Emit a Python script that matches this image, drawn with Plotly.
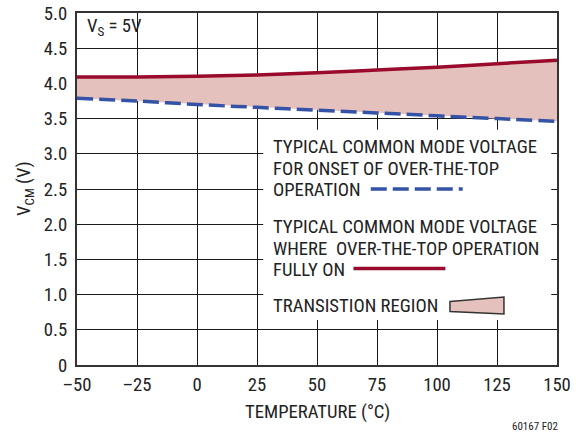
import plotly.graph_objects as go

# ---- data ----
temperature = [-50, -25, 0, 25, 50, 75, 100, 125, 150]
v_onset = [3.79, 3.75, 3.70, 3.66, 3.62, 3.58, 3.54, 3.50, 3.46]      # blue dashed
v_fully_on = [4.09, 4.09, 4.10, 4.12, 4.15, 4.19, 4.23, 4.28, 4.33]   # red solid

x_tickvals = [-50, -25, 0, 25, 50, 75, 100, 125, 150]
x_ticktext = ["–50", "–25", "0", "25", "50", "75", "100", "125", "150"]
y_tickvals = [0, 0.5, 1.0, 1.5, 2.0, 2.5, 3.0, 3.5, 4.0, 4.5, 5.0]
y_ticktext = ["0", "0.5", "1.0", "1.5", "2.0", "2.5", "3.0", "3.5", "4.0", "4.5", "5.0"]

legend_lines_1 = ["TYPICAL COMMON MODE VOLTAGE", "FOR ONSET OF OVER-THE-TOP", "OPERATION"]
legend_lines_2 = ["TYPICAL COMMON MODE VOLTAGE", "WHERE\u00a0 OVER-THE-TOP OPERATION", "FULLY ON"]
legend_lines_3 = ["TRANSISTION REGION"]

FONT = "Roboto Condensed, Liberation Sans Narrow, Arial Narrow, sans-serif"
TXT = "#222222"
RED = "#9a0a2c"
BLUE = "#3553a6"
PINK = "#e4c1bc"
FS = 18.7

W, H = 582, 434
PL, PR, PB, PT = 77, 557, 365, 13
PW, PH = PR - PL, PB - PT

fig = go.Figure()

# fill region between curves
fig.add_trace(go.Scatter(x=temperature, y=v_onset, mode="lines",
                         line=dict(width=0, color=PINK), showlegend=False, hoverinfo="skip"))
fig.add_trace(go.Scatter(x=temperature, y=v_fully_on, mode="lines", fill="tonexty",
                         fillcolor=PINK, line=dict(width=0, color=PINK),
                         showlegend=False, hoverinfo="skip"))
# lines
fig.add_trace(go.Scatter(x=temperature, y=v_onset, mode="lines",
                         line=dict(color=BLUE, width=3.5, dash="16px,6px", shape="spline"),
                         showlegend=False))
fig.add_trace(go.Scatter(x=temperature, y=v_fully_on, mode="lines",
                         line=dict(color=RED, width=3.5, shape="spline"),
                         showlegend=False))

shapes = []
# white legend box hiding grid
shapes.append(dict(type="rect", xref="x", yref="y", x0=27.6, x1=147.6, y0=0.64, y1=3.34,
                   fillcolor="white", line=dict(width=0), layer="between"))
# legend symbols
shapes.append(dict(type="line", xref="x", yref="y", x0=72.4, x1=110.7, y0=2.50, y1=2.50,
                   line=dict(color=BLUE, width=3.5, dash="16px,6px")))
shapes.append(dict(type="line", xref="x", yref="y", x0=65.2, x1=103.5, y0=1.372, y1=1.372,
                   line=dict(color=RED, width=3.5)))
shapes.append(dict(type="path", xref="x", yref="y",
                   path="M 105.4 0.903 L 127.9 0.966 L 127.9 0.724 L 105.4 0.761 Z",
                   fillcolor=PINK, line=dict(color="#333333", width=1.5)))

annotations = []
def add_line(text, y):
    annotations.append(dict(x=30.7, y=y, xref="x", yref="y", text=text, showarrow=False,
                            xanchor="left", yanchor="middle",
                            font=dict(family=FONT, size=FS, color=TXT)))

for t, y in zip(legend_lines_1, [3.097, 2.784, 2.490]):
    add_line(t, y)
for t, y in zip(legend_lines_2, [1.960, 1.648, 1.354]):
    add_line(t, y)
for t, y in zip(legend_lines_3, [0.842]):
    add_line(t, y)

annotations.append(dict(x=-46.5, y=4.80, xref="x", yref="y", text="V<sub>S</sub> = 5V",
                        showarrow=False, xanchor="left", yanchor="middle",
                        font=dict(family=FONT, size=FS, color=TXT)))
annotations.append(dict(x=(560 - PL) / PW, y=(PB - 426) / PH, xref="paper", yref="paper",
                        text="60167 F02", showarrow=False, xanchor="right", yanchor="middle",
                        font=dict(family=FONT, size=11, color=TXT)))
# axis titles
annotations.append(dict(x=(317 - PL) / PW, y=(PB - 412) / PH, xref="paper", yref="paper",
                        text="TEMPERATURE (°C)", showarrow=False, xanchor="center", yanchor="middle",
                        font=dict(family=FONT, size=FS, color=TXT)))
annotations.append(dict(x=(25 - PL) / PW, y=0.5, xref="paper", yref="paper",
                        text="V<sub>CM</sub> (V)", showarrow=False, xanchor="center", yanchor="middle",
                        textangle=-90, font=dict(family=FONT, size=FS, color=TXT)))

fig.update_layout(
    width=W, height=H,
    margin=dict(l=PL, r=W - PR, t=PT, b=H - PB, autoexpand=False),
    paper_bgcolor="white", plot_bgcolor="white",
    font=dict(family=FONT, size=FS, color=TXT),
    shapes=shapes, annotations=annotations,
    showlegend=False,
)
fig.update_xaxes(range=[-50, 150], tickvals=x_tickvals, ticktext=x_ticktext,
                 showgrid=True, gridcolor="#1a1a1a", gridwidth=1.2,
                 showline=True, linecolor="#333333", linewidth=2, mirror=True,
                 ticks="", ticklabelstandoff=2, zeroline=False, automargin=False,
                 ticklabeloverflow="allow",
                 tickfont=dict(family=FONT, size=FS, color=TXT))
fig.update_yaxes(range=[0, 5], tickvals=y_tickvals, ticktext=y_ticktext,
                 showgrid=True, gridcolor="#1a1a1a", gridwidth=1.2,
                 showline=True, linecolor="#333333", linewidth=2, mirror=True,
                 ticks="", ticklabelstandoff=4, zeroline=False, automargin=False,
                 ticklabeloverflow="allow",
                 tickfont=dict(family=FONT, size=FS, color=TXT))

fig.write_html("out.html", config={"displayModeBar": False},
               post_script="document.body.style.margin='0';")
